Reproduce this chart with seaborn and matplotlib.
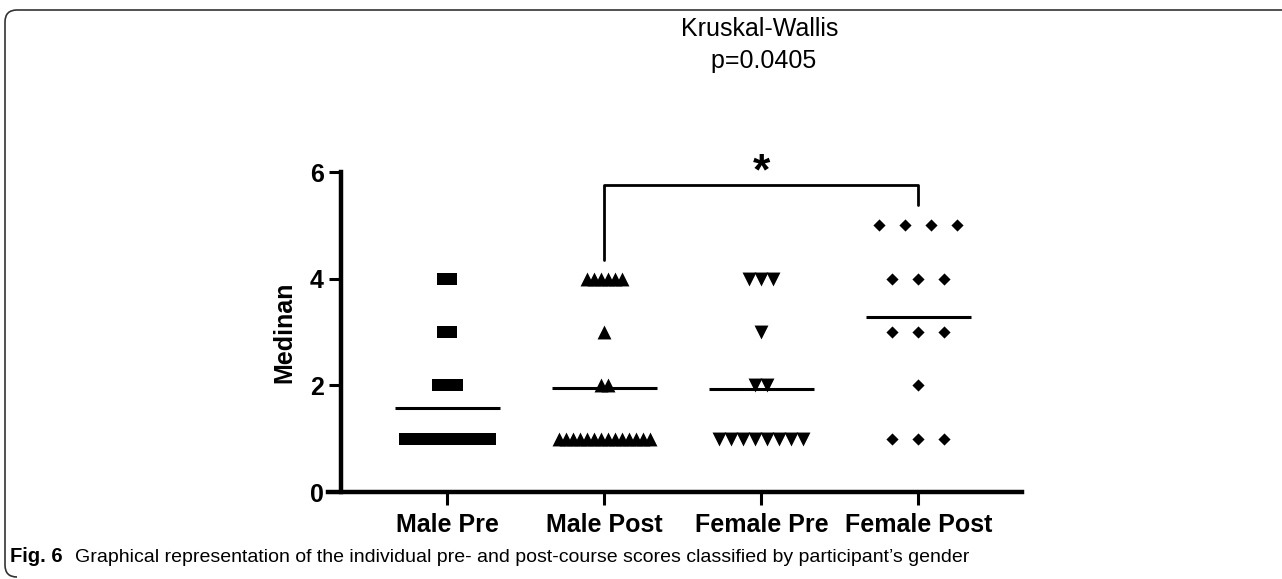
import numpy as np
import pandas as pd
import matplotlib
matplotlib.use("Agg")
import matplotlib.pyplot as plt
from matplotlib.path import Path
from matplotlib.patches import PathPatch
import seaborn as sns

# scores per group (value -> count)
groups = ["Male Pre", "Male Post", "Female Pre", "Female Post"]
male_pre = [4] * 1 + [3] * 1 + [2] * 2 + [1] * 8
male_post = [4] * 6 + [3] * 1 + [2] * 2 + [1] * 14
female_pre = [4] * 3 + [3] * 1 + [2] * 2 + [1] * 8
female_post = [5] * 4 + [4] * 3 + [3] * 3 + [2] * 1 + [1] * 3
scores = [male_pre, male_post, female_pre, female_post]
y_ticks = [0, 2, 4, 6]

title_text = "Kruskal-Wallis\n p=0.0405"
caption_bold = "Fig. 6"
caption_text = ("Graphical representation of the individual pre- and post-course "
                "scores classified by participant\u2019s gender")

# marker look per group
rect = [(-1, -0.6), (1, -0.6), (1, 0.6), (-1, 0.6), (-1, -0.6)]
markers = [rect, "^", "v", "D"]
msizes = [14.4 ** 2, 10 ** 2, 10 ** 2, 6.2 ** 2]
spacing_px = [11, 7, 12, 26]
px_per_unit = 157.0

sns.set_style("ticks")
plt.rcParams["font.family"] = ["Liberation Sans", "DejaVu Sans"]
plt.rcParams.update({"text.color": "black", "axes.labelcolor": "black",
                     "xtick.color": "black", "ytick.color": "black",
                     "axes.edgecolor": "black"})

fig = plt.figure(figsize=(12.82, 5.79), dpi=100)
ax = fig.add_axes([328 / 1282, 87 / 579, 694 / 1282, 320 / 579])

# axis frame first (moving a spine resets the tick labels)
for s in ["top", "right"]:
    ax.spines[s].set_visible(False)
ax.spines["left"].set_position(("data", -0.68))
ax.spines["left"].set_bounds(0, 6)
ax.spines["left"].set_linewidth(3.2)
ax.spines["bottom"].set_linewidth(3.2)

rows = []
for gi, vals in enumerate(scores):
    vals = np.array(vals)
    for v in np.unique(vals):
        k = int((vals == v).sum())
        offs = (np.arange(k) - (k - 1) / 2) * spacing_px[gi] / px_per_unit
        for o in offs:
            rows.append({"group": gi, "x": gi + o, "score": v})
df = pd.DataFrame(rows)

for gi in range(len(groups)):
    sub = df[df["group"] == gi]
    sns.scatterplot(data=sub, x="x", y="score", marker=markers[gi], s=msizes[gi],
                    color="black", linewidth=0, ax=ax, clip_on=False, zorder=3)
    m = np.mean(scores[gi])
    ax.hlines(m, gi - 0.335, gi + 0.335, color="black", lw=2.2, zorder=4)

# significance bracket
ax.plot([1, 1, 3, 3], [4.35, 5.76, 5.76, 5.38], color="black", lw=2, clip_on=False)
ax.text(2.0, 5.98, "*", ha="center", va="center", fontsize=32, fontweight="bold",
        clip_on=False)

ax.set_xlim(-0.76, 3.66)
ax.set_ylim(0, 6)
ax.set_xticks(range(len(groups)))
ax.set_xticklabels(groups, fontsize=18, fontweight="bold")
ax.set_yticks(y_ticks)
ax.set_yticklabels([str(t) for t in y_ticks], fontsize=18, fontweight="bold")
ax.set_xlabel("")
ax.set_ylabel("Medinan", fontsize=18, fontweight="bold", labelpad=10)
ax.tick_params(axis="both", width=2.2, length=9, color="black")
ax.tick_params(axis="x", pad=6)
ax.tick_params(axis="y", pad=3)

fig.text(760 / 1282, 1 - 45 / 579, title_text, ha="center", va="center",
         fontsize=18, linespacing=1.45, multialignment="center")

# caption
fig.text(10 / 1282, 1 - 557 / 579, caption_bold, ha="left", va="center",
         fontsize=14.5, fontweight="bold")
fig.text(75 / 1282, 1 - 557 / 579, caption_text, ha="left", va="center",
         fontsize=14)

# rounded frame (top and left edges)
W, H = 1282.0, 579.0
pts = [(W, 10), (17, 10), (5, 10), (5, 22), (5, 565), (5, 577), (17, 577)]
codes = [Path.MOVETO, Path.LINETO, Path.CURVE3, Path.CURVE3, Path.LINETO,
         Path.CURVE3, Path.CURVE3]
verts = [(x / W, 1 - y / H) for x, y in pts]
frame = PathPatch(Path(verts, codes), fill=False, edgecolor="#333333", lw=1.2,
                  transform=fig.transFigure)
fig.add_artist(frame)

fig.savefig("out.png", dpi=100)
